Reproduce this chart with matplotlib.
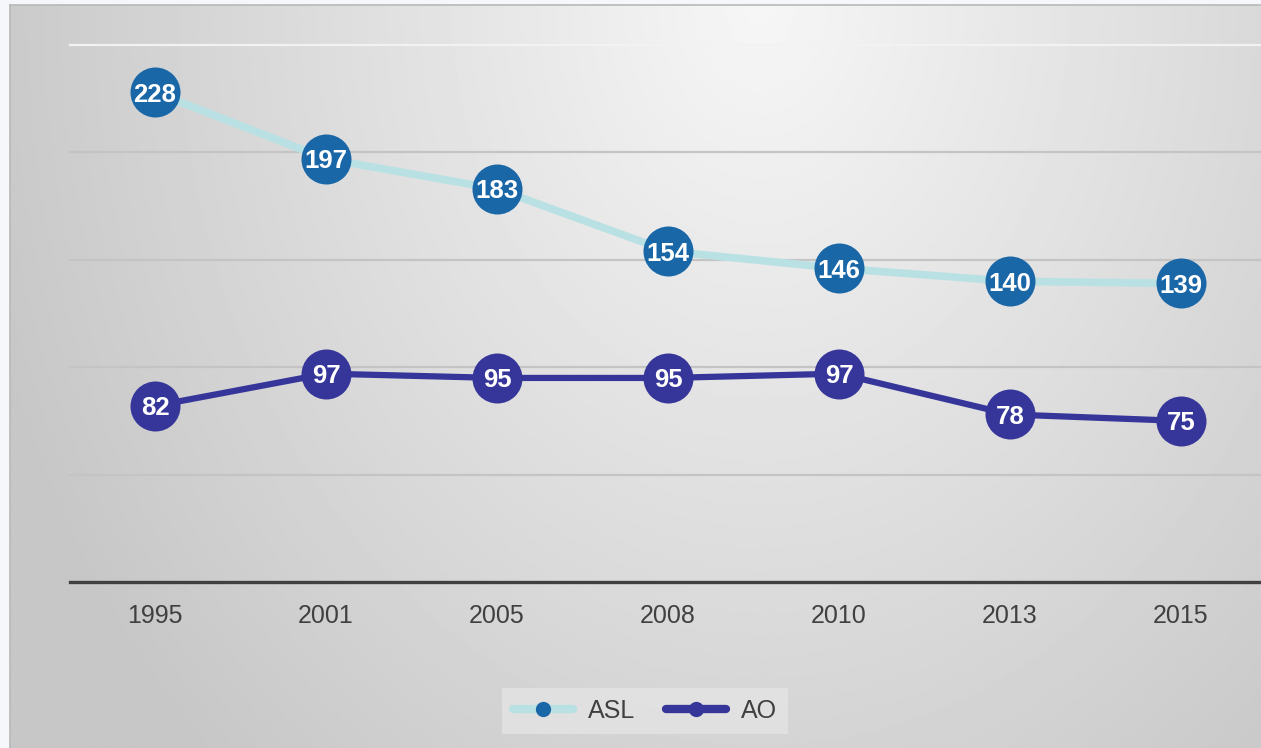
import numpy as np
import matplotlib
matplotlib.use("Agg")
import matplotlib.pyplot as plt
from matplotlib.lines import Line2D

plt.rcParams["font.family"] = ["Liberation Sans", "DejaVu Sans"]

# data
years = ["1995", "2001", "2005", "2008", "2010", "2013", "2015"]
asl = [228, 197, 183, 154, 146, 140, 139]
ao = [82, 97, 95, 95, 97, 78, 75]
grid_vals = [50, 100, 150, 200, 250]

W, H = 1261, 748
fig = plt.figure(figsize=(W / 100, H / 100), dpi=100)
fig.patch.set_facecolor("#f5f7fb")

# ---- panel with radial-ish gray gradient ----
bg = fig.add_axes([10 / W, 0, (W - 10) / W, (H - 5) / H])
yy, xx = np.mgrid[0:1:300j, 0:1:500j]
d = np.sqrt(((xx - 0.6) / 0.7) ** 2 + ((yy - 0.0) / 1.5) ** 2)
shade = np.clip(0.965 - 0.2 * d, 0.78, 0.97)
bg.imshow(shade, cmap="gray", vmin=0, vmax=1, aspect="auto",
          extent=(0, 1, 1, 0), interpolation="bilinear")
bg.set_xlim(0, 1)
bg.set_ylim(1, 0)
bg.set_xticks([])
bg.set_yticks([])
for side in ("right", "bottom"):
    bg.spines[side].set_visible(False)
for side in ("top", "left"):
    bg.spines[side].set_color("#b8b8b8")
    bg.spines[side].set_linewidth(1.2)

# ---- chart axes ----
x0, x1 = 69.5, 1266.5
y0, ytop = 582, 45
ax = fig.add_axes([x0 / W, (H - y0) / H, (x1 - x0) / W, (y0 - ytop) / H])
ax.patch.set_alpha(0)
ax.set_xlim(-0.5, len(years) - 0.5)
ax.set_ylim(0, 250)
for s in ax.spines.values():
    s.set_visible(False)
ax.set_yticks([])
ax.set_xticks(range(len(years)))
ax.set_xticklabels(years, fontsize=18, color="#404040")
ax.tick_params(axis="x", length=0, pad=16)

for g in grid_vals:
    col = "#f2f2f2" if g == 250 else "#c4c4c4"
    ax.axhline(g, color=col, lw=1.6, zorder=1, clip_on=False)
ax.axhline(0, color="#404040", lw=2.4, zorder=2, clip_on=False)

x = np.arange(len(years))
ax.plot(x, asl, color="#b9e1e4", lw=5.5, zorder=3, solid_capstyle="round")
ax.plot(x, asl, "o", color="#1a67a8", ms=36, mec="none", zorder=4)
ax.plot(x, ao, color="#36369a", lw=4.5, zorder=3, solid_capstyle="round")
ax.plot(x, ao, "o", color="#36369a", ms=36, mec="none", zorder=4)

for series in (asl, ao):
    for xi, v in zip(x, series):
        ax.annotate(str(v), (xi, v), xytext=(0, -1.8), textcoords="offset points",
                    ha="center", va="center", color="white",
                    fontsize=18.5, fontweight="bold", zorder=5)

# ---- legend ----
handles = [
    Line2D([], [], color="#b9e1e4", lw=6, marker="o", ms=11,
           mfc="#1a67a8", mec="none", solid_capstyle="round"),
    Line2D([], [], color="#36369a", lw=6, marker="o", ms=11,
           mfc="#36369a", mec="none", solid_capstyle="round"),
]
leg = fig.legend(handles, ["ASL", "AO"], loc="center",
                 bbox_to_anchor=(645 / W, 1 - 711 / H), ncol=2,
                 fontsize=18, frameon=True, fancybox=False,
                 handlelength=2.4, columnspacing=1.2, handletextpad=0.6,
                 borderpad=0.45)
leg.get_frame().set_facecolor("#e4e4e4")
leg.get_frame().set_edgecolor("none")
for t in leg.get_texts():
    t.set_color("#404040")

fig.savefig("out.png", dpi=100, facecolor=fig.get_facecolor())
